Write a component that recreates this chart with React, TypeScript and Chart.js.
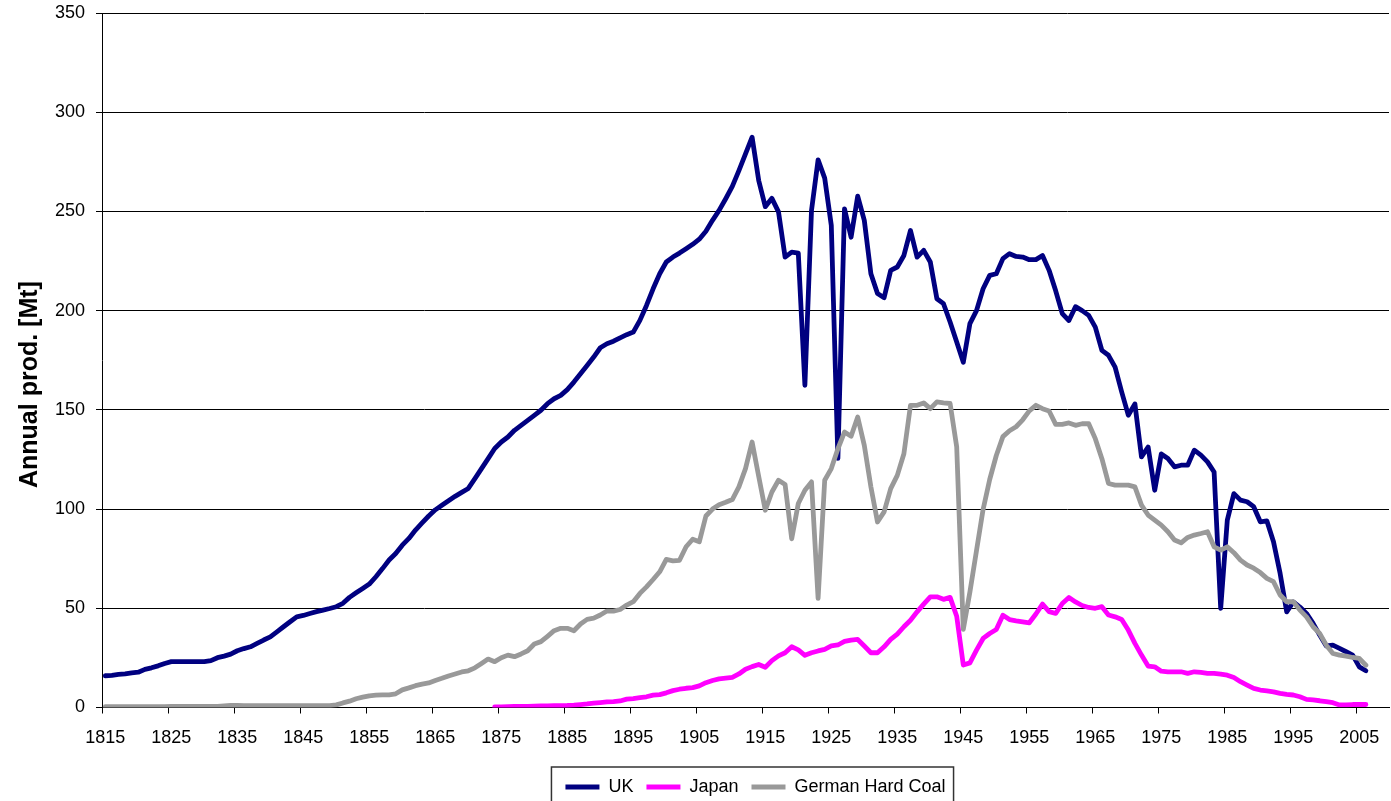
import React, { useEffect, useRef } from 'react';
import { Chart, registerables } from 'chart.js';

Chart.register(...registerables);

// ---- categories ----
const FIRST_YEAR = 1815;
const LAST_YEAR = 2009;
const years: number[] = Array.from({ length: LAST_YEAR - FIRST_YEAR + 1 }, (_, i) => FIRST_YEAR + i);

// ---- x tick labels ----
const xTickLabels = ['1815', '1825', '1835', '1845', '1855', '1865', '1875', '1885', '1895', '1905', '1915', '1925', '1935', '1945', '1955', '1965', '1975', '1985', '1995', '2005'];

// ---- series: UK (from 1815) ----
const ukValues = [
  16.0, 16.2, 16.7, 17.0, 17.5, 17.8, 19.2, 20.0, 21.0, 22.2,
  23.1, 23.1, 23.1, 23.1, 23.1, 23.1, 23.6, 25.1, 25.9, 26.9,
  28.6, 29.7, 30.6, 32.3, 34.0, 35.6, 38.1, 40.7, 43.2, 45.7,
  46.4, 47.4, 48.3, 49.1, 49.9, 50.8, 52.5, 55.5, 57.8, 60.0,
  62.2, 65.9, 70.0, 74.3, 77.6, 81.8, 85.2, 89.4, 93.0, 96.5,
  99.6, 101.9, 104.2, 106.4, 108.4, 110.4, 115.3, 120.4, 125.4, 130.5,
  133.8, 136.3, 139.7, 142.2, 144.7, 147.2, 149.8, 153.1, 155.6, 157.3,
  160.2, 164.0, 168.2, 172.4, 176.6, 181.3, 183.3, 184.6, 186.3, 187.9,
  189.2, 195.1, 202.6, 211.0, 218.6, 224.5, 227.0, 229.0, 231.2, 233.4,
  236.0, 240.0, 245.5, 250.5, 256.4, 262.6, 270.6, 279.0, 287.4, 265.6,
  252.4, 256.6, 249.8, 227.0, 229.5, 229.0, 162.4, 250.5, 276.0, 266.8,
  243.0, 125.5, 251.3, 237.0, 257.7, 245.5, 218.6, 208.6, 206.5, 220.3,
  222.0, 227.8, 240.4, 227.0, 230.4, 224.5, 206.0, 203.5, 194.3, 184.2,
  174.0, 193.5, 200.0, 211.0, 217.8, 218.6, 226.2, 228.7, 227.3, 227.0,
  225.7, 225.7, 227.8, 220.3, 210.0, 198.5, 195.0, 202.0, 200.0, 197.6,
  191.7, 180.0, 177.5, 171.5, 159.0, 147.3, 153.0, 126.3, 131.3, 109.5,
  127.8, 125.5, 121.3, 122.1, 122.1, 129.7, 127.2, 123.8, 118.7, 50.0,
  94.4, 107.8, 104.5, 103.7, 101.2, 93.6, 94.0, 83.5, 67.6, 48.2,
  53.2, 50.6, 47.4, 42.4, 36.5, 31.0, 31.4, 29.8, 28.1, 26.4,
  20.5, 18.5,
];

// ---- series: Japan (from 1874) ----
const JAPAN_FIRST_YEAR = 1874;
const japanValues = [
  0.3, 0.3, 0.4, 0.5, 0.5, 0.6, 0.7, 0.8, 0.8, 0.9,
  0.9, 1.0, 1.2, 1.5, 1.8, 2.2, 2.5, 2.8, 3.0, 3.3,
  4.2, 4.5, 5.0, 5.4, 6.2, 6.5, 7.4, 8.5, 9.2, 9.7,
  10.0, 10.9, 12.5, 13.6, 14.4, 14.8, 15.2, 16.9, 19.3, 20.6,
  21.7, 20.3, 23.6, 26.0, 27.6, 30.6, 29.0, 26.3, 27.6, 28.5,
  29.3, 31.0, 31.5, 33.3, 34.0, 34.3, 31.0, 27.6, 27.6, 30.6,
  34.3, 37.0, 40.7, 44.0, 48.2, 52.1, 55.8, 55.8, 54.5, 55.5,
  46.0, 21.4, 22.5, 28.9, 34.8, 37.3, 39.3, 46.5, 44.3, 43.7,
  43.2, 42.7, 47.1, 52.1, 48.3, 47.4, 52.4, 55.4, 53.2, 51.4,
  50.4, 50.0, 50.8, 46.6, 45.7, 44.4, 39.0, 32.3, 26.4, 20.9,
  20.5, 18.3, 18.0, 18.0, 18.0, 17.2, 18.0, 17.7, 17.2, 17.2,
  16.8, 16.3, 15.1, 13.0, 11.3, 9.6, 8.8, 8.4, 7.9, 7.1,
  6.6, 6.3, 5.4, 4.1, 3.8, 3.4, 2.9, 2.4, 1.3, 1.3,
  1.5, 1.5, 1.5,
];

// ---- series: German hard coal (from 1815) ----
const germanValues = [
  0.4, 0.4, 0.4, 0.4, 0.4, 0.4, 0.4, 0.4, 0.4, 0.4,
  0.5, 0.5, 0.5, 0.5, 0.5, 0.5, 0.5, 0.6, 0.8, 1.0,
  1.0, 0.9, 0.9, 0.9, 0.9, 0.9, 0.9, 0.9, 0.9, 0.9,
  0.9, 0.9, 0.9, 0.9, 0.9, 1.3, 2.3, 3.2, 4.4, 5.2,
  5.9, 6.2, 6.4, 6.4, 6.9, 8.9, 9.9, 11.0, 11.8, 12.4,
  13.6, 14.7, 15.9, 16.9, 17.9, 18.5, 20.0, 22.2, 24.4, 23.1,
  25.1, 26.4, 25.6, 27.0, 28.6, 32.0, 33.2, 35.9, 38.7, 39.9,
  39.9, 38.7, 42.1, 44.4, 45.0, 46.6, 48.6, 48.6, 49.4, 51.6,
  53.3, 57.5, 60.8, 64.5, 68.4, 74.6, 73.9, 74.2, 81.0, 84.8,
  83.5, 96.5, 100.0, 102.2, 103.4, 104.8, 111.2, 120.4, 133.8, 116.5,
  99.4, 108.6, 114.5, 112.4, 85.0, 102.8, 109.5, 113.7, 55.0, 114.5,
  120.4, 130.4, 138.8, 136.7, 146.4, 132.1, 111.2, 93.5, 98.6, 110.3,
  117.0, 127.9, 152.3, 152.3, 153.5, 150.6, 154.0, 153.5, 153.2, 131.3,
  39.4, 58.2, 79.0, 99.8, 114.9, 127.0, 136.5, 139.5, 141.5, 145.0,
  149.5, 152.3, 150.6, 149.4, 142.7, 142.7, 143.4, 142.2, 143.0, 143.0,
  135.5, 125.4, 112.9, 112.1, 112.1, 112.1, 111.2, 102.0, 97.0, 94.4,
  91.9, 88.6, 84.4, 83.0, 85.7, 86.9, 87.7, 88.6, 81.0, 79.3,
  81.0, 78.0, 74.3, 71.8, 70.2, 68.0, 65.1, 63.4, 56.7, 53.3,
  53.3, 49.1, 45.7, 40.7, 37.3, 31.4, 27.2, 26.4, 25.9, 25.2,
  24.7, 21.3,
];

const seriesNames = ['UK', 'Japan', 'German Hard Coal'];
const seriesColors = ['#000080', '#FF00FF', '#999999'];

const FONT = '"Liberation Sans", Arial, Helvetica, sans-serif';

export default function App() {
  const ref = useRef<HTMLCanvasElement | null>(null);

  useEffect(() => {
    document.body.style.margin = '0';
    const canvas = ref.current;
    if (!canvas) return;

    const ukData = years.map((_, i) => (i < ukValues.length ? ukValues[i] : null));
    const germanData = years.map((_, i) => (i < germanValues.length ? germanValues[i] : null));
    const japanData = years.map((y) => {
      const k = y - JAPAN_FIRST_YEAR;
      return k >= 0 && k < japanValues.length ? japanValues[k] : null;
    });
    const tickSet = new Set(xTickLabels);

    const legendBox = {
      id: 'legendBox',
      afterLayout(chart: any) {
        const lg = chart.legend;
        if (lg) {
          lg.left += 10;
          lg.right += 10;
        }
      },
      afterDraw(chart: any) {
        const boxes = chart.legend && chart.legend.legendHitBoxes;
        if (!boxes || !boxes.length) return;
        const first = boxes[0];
        const last = boxes[boxes.length - 1];
        const ctx = chart.ctx;
        const x0 = first.left - 14;
        const x1 = last.left + last.width + 8;
        const y0 = first.top + first.height / 2 - 20;
        ctx.save();
        ctx.strokeStyle = '#333';
        ctx.lineWidth = 1.5;
        ctx.strokeRect(x0, y0, x1 - x0, chart.height - y0 + 10);
        ctx.restore();
      },
    };

    Chart.defaults.font.family = FONT;

    const chart = new Chart(canvas, {
      type: 'line',
      data: {
        labels: years.map(String),
        datasets: [
          { label: seriesNames[0], data: ukData, borderColor: seriesColors[0], backgroundColor: seriesColors[0], borderWidth: 4.8, order: 3 },
          { label: seriesNames[1], data: japanData, borderColor: seriesColors[1], backgroundColor: seriesColors[1], borderWidth: 4.8, order: 2 },
          { label: seriesNames[2], data: germanData, borderColor: seriesColors[2], backgroundColor: seriesColors[2], borderWidth: 4.8, order: 1 },
        ],
      },
      options: {
        responsive: false,
        animation: false,
        devicePixelRatio: 1,
        layout: { padding: { top: 13, right: 2, left: 0, bottom: -5 } },
        elements: {
          point: { radius: 0, hoverRadius: 0 },
          line: { tension: 0, borderJoinStyle: 'round', borderCapStyle: 'round' },
        },
        plugins: {
          tooltip: { enabled: false },
          legend: {
            position: 'bottom',
            fullSize: false,
            labels: {
              usePointStyle: true,
              pointStyle: 'line',
              pointStyleWidth: 34,
              padding: 13,
              color: '#000',
              font: { size: 18, family: FONT },
              sort: (a: any, b: any) => a.datasetIndex - b.datasetIndex,
            },
          },
        },
        scales: {
          x: {
            type: 'category',
            offset: true,
            grid: {
              offset: true,
              drawOnChartArea: false,
              drawTicks: true,
              tickLength: 6,
              color: (ctx: any) => (ctx.index % 10 === 0 ? '#000' : 'rgba(0,0,0,0)'),
            },
            border: { display: true, color: '#000', width: 1 },
            ticks: {
              autoSkip: false,
              maxRotation: 0,
              minRotation: 0,
              padding: 14,
              color: '#000',
              font: { size: 18, family: FONT },
              callback: (_v: any, i: number) => (tickSet.has(String(years[i])) ? String(years[i]) : ''),
            },
            afterFit: (s: any) => {
              s.height = 57.5;
              s.paddingLeft = 0;
              s.paddingRight = 0;
            },
          },
          y: {
            min: 0,
            max: 350,
            ticks: { stepSize: 50, padding: 11, color: '#000', font: { size: 18, family: FONT } },
            grid: { color: '#000', lineWidth: 1, tickLength: 6 },
            border: { display: true, color: '#000', width: 1 },
            title: {
              display: true,
              text: 'Annual prod. [Mt]       ',
              color: '#000',
              font: { size: 25, weight: 'bold', family: FONT },
              padding: { top: 15, bottom: 0 },
            },
            afterFit: (s: any) => {
              s.width = 102;
              s.paddingTop = 0;
              s.paddingBottom = 0;
            },
          },
        },
      } as any,
      plugins: [legendBox],
    });

    return () => chart.destroy();
  }, []);

  return (
    <div style={{ width: 1391, height: 801, overflow: 'hidden' }}>
      <canvas ref={ref} width={1391} height={801} style={{ display: 'block' }} />
    </div>
  );
}
